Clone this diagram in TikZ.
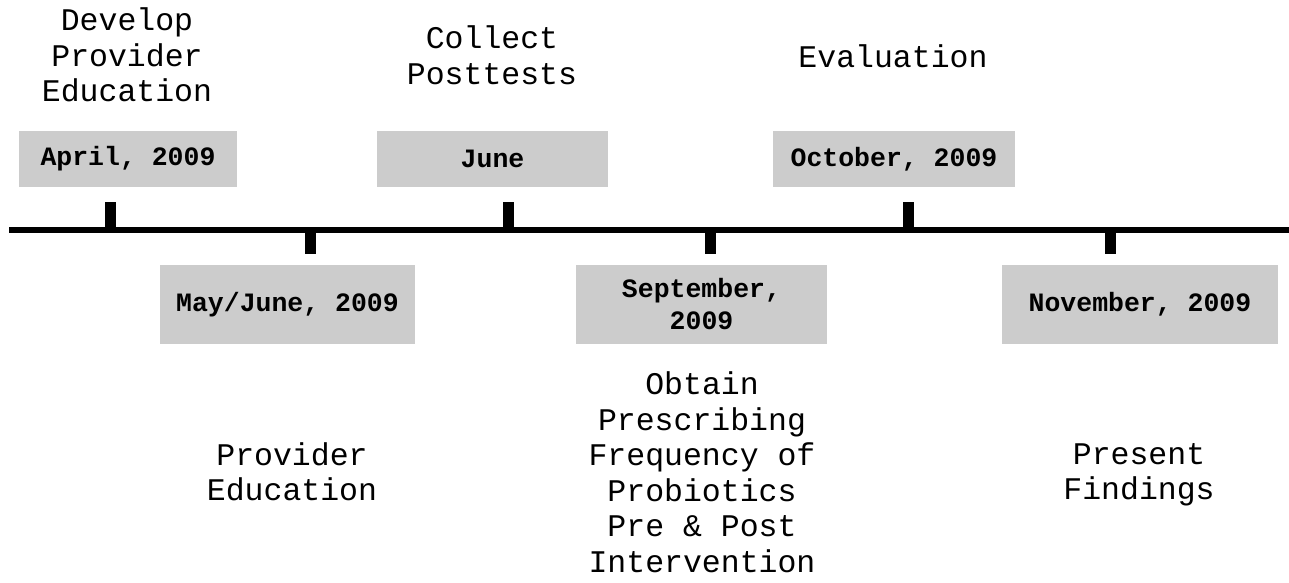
\documentclass[tikz,border=0pt]{standalone}
\usepackage{fontspec}
\setmonofont{Liberation Mono}
\usepackage{xcolor}
\usepackage{tikz}

\definecolor{boxgray}{HTML}{CCCCCC}

\tikzset{
  datebox/.style={fill=boxgray, inner sep=0pt, align=center,
    font=\ttfamily\bfseries\fontsize{26.5}{32}\selectfont},
  tasktext/.style={inner sep=0pt, align=center,
    font=\ttfamily\fontsize{31.5}{35.5}\selectfont},
  tick/.style={line width=11pt, black}
}

\begin{document}
\begin{tikzpicture}[x=1pt,y=-1pt]
\useasboundingbox (0,0) rectangle (1289,582);

% timeline
\coordinate (start) at (9,230);
\coordinate (end) at (1289,230);
\draw[line width=6pt,black] (start) -- (end);

\coordinate (t1) at (110,230);  \coordinate (t1end) at (110,202);
\coordinate (t2) at (310,230);  \coordinate (t2end) at (310,254);
\coordinate (t3) at (508,230);  \coordinate (t3end) at (508,202);
\coordinate (t4) at (710,230);  \coordinate (t4end) at (710,254);
\coordinate (t5) at (908,230);  \coordinate (t5end) at (908,202);
\coordinate (t6) at (1110,230); \coordinate (t6end) at (1110,254);

\draw[tick] (t1) -- (t1end);
\draw[tick] (t2) -- (t2end);
\draw[tick] (t3) -- (t3end);
\draw[tick] (t4) -- (t4end);
\draw[tick] (t5) -- (t5end);
\draw[tick] (t6) -- (t6end);

% dates above
\node[datebox, minimum width=218pt, minimum height=56pt] (april) at (128,159) {April, 2009};
\node[datebox, minimum width=231pt, minimum height=56pt] (june) at (492.5,159) {June};
\node[datebox, minimum width=242pt, minimum height=56pt] (october) at (894,159) {October, 2009};

% dates below
\node[datebox, minimum width=255pt, minimum height=79pt] (mayjune) at (287.5,304.5) {May/June, 2009};
\node[datebox, minimum width=251pt, minimum height=79pt] (september) at (701.5,304.5) {September,\\2009};
\node[datebox, minimum width=276pt, minimum height=79pt] (november) at (1140,304.5) {November, 2009};

% tasks
\node[tasktext] (develop) at (127,55) {Develop\\Provider\\Education};
\node[tasktext] (collect) at (492,55) {Collect\\Posttests};
\node[tasktext] (evaluation) at (893,56) {Evaluation};
\node[tasktext] (education) at (292,472) {Provider\\Education};
\node[tasktext] (obtain) at (702,472) {Obtain\\Prescribing\\Frequency of\\Probiotics\\Pre \& Post\\Intervention};
\node[tasktext] (present) at (1139,475) {Present\\Findings};
\end{tikzpicture}
\end{document}
